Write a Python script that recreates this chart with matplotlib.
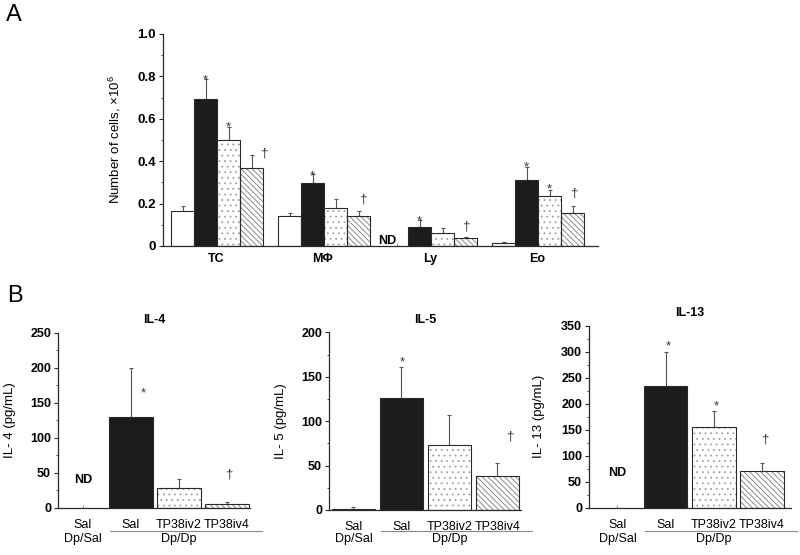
import numpy as np
import matplotlib
matplotlib.use("Agg")
import matplotlib.pyplot as plt
from matplotlib.ticker import MultipleLocator
import matplotlib.transforms as mtransforms

plt.rcParams["font.family"] = ["Liberation Sans", "DejaVu Sans"]
plt.rcParams["mathtext.default"] = "regular"
plt.rcParams["hatch.linewidth"] = 0.6

W, H = 800, 555

# ---- Panel A: BAL cell counts ----
cell_types = ["TC", "MΦ", "Ly", "Eo"]
# order per group: Dp/Sal-Sal, Dp/Dp-Sal, Dp/Dp-TP38iv2, Dp/Dp-TP38iv4
cells_mean = [
    [0.167, 0.695, 0.498, 0.370],
    [0.140, 0.299, 0.181, 0.142],
    [np.nan, 0.088, 0.061, 0.036],
    [0.013, 0.310, 0.234, 0.154],
]
cells_sem = [
    [0.022, 0.091, 0.063, 0.060],
    [0.017, 0.041, 0.039, 0.025],
    [np.nan, 0.035, 0.022, 0.006],
    [0.004, 0.065, 0.030, 0.035],
]
# (group, bar, symbol, y, x shift in bar widths)
cells_marks = [
    (0, 1, "*", 0.796, 0.0), (0, 2, "*", 0.575, 0.0), (0, 3, "†", 0.434, 0.55),
    (1, 1, "*", 0.346, 0.0), (1, 3, "†", 0.217, 0.2),
    (2, 1, "*", 0.130, 0.0), (2, 3, "†", 0.091, 0.0),
    (3, 1, "*", 0.385, 0.0), (3, 2, "*", 0.285, 0.0), (3, 3, "†", 0.250, 0.05),
]

# ---- Panel B: cytokines ----
groups_b = ["Sal", "Sal", "TP38iv2", "TP38iv4"]
il4_mean = [np.nan, 130.0, 28.6, 4.8]
il4_sem = [np.nan, 69.0, 12.8, 3.2]
il5_mean = [1.0, 125.7, 72.8, 38.6]
il5_sem = [2.4, 35.0, 33.8, 14.7]
il13_mean = [np.nan, 235.0, 155.0, 70.0]
il13_sem = [np.nan, 64.0, 31.5, 16.0]
il4_marks = [(1.25, 168, "*"), (3.04, 48, "†")]
il5_marks = [(1.02, 170, "*"), (3.25, 83, "†")]
il13_marks = [(1.06, 317, "*"), (2.05, 202, "*"), (3.06, 132, "†")]

EDGE = "#2a2a2a"
AXC = "#2a2a2a"


def px_axes(fig, x0, x1, ytop, ybot):
    return fig.add_axes([x0 / W, 1 - ybot / H, (x1 - x0) / W, (ybot - ytop) / H])


def draw_bar(ax, x, h, w, style):
    if np.isnan(h):
        return
    if style == 0:
        ax.bar(x, h, w, color="white", edgecolor=EDGE, linewidth=0.8, zorder=2)
    elif style == 1:
        ax.bar(x, h, w, color="#1c1c1c", edgecolor=EDGE, linewidth=0.8, zorder=2)
    else:
        hatch = "..." if style == 2 else "\\\\\\\\\\\\"
        col = "#a0a0a0" if style == 2 else "#7a7a7a"
        ax.bar(x, h, w, color="white", edgecolor=col, linewidth=0,
               hatch=hatch, zorder=2)
        ax.bar(x, h, w, color="none", edgecolor=EDGE, linewidth=0.8, zorder=3)


def draw_err(ax, x, h, e):
    if np.isnan(h) or np.isnan(e):
        return
    ax.errorbar(x, h, yerr=[[0], [e]], fmt="none", ecolor="#555555",
                elinewidth=0.8, capsize=1.5, capthick=0.8, zorder=1)


def style_axes(ax):
    for s in ["top", "right"]:
        ax.spines[s].set_visible(False)
    for s in ["left", "bottom"]:
        ax.spines[s].set_color(AXC)
        ax.spines[s].set_linewidth(0.9)
    ax.tick_params(axis="y", which="major", direction="out", length=3,
                   width=0.8, color=AXC, pad=2)
    ax.tick_params(axis="y", which="minor", direction="out", length=1.5,
                   width=0.6, color=AXC)
    for lab in ax.get_yticklabels():
        lab.set_fontweight("bold")


fig = plt.figure(figsize=(W / 100, H / 100), dpi=100)

# ---------------- Panel A ----------------
axA = px_axes(fig, 163, 598, 34, 246)
bw = 0.215
offs = np.array([-1.5, -0.5, 0.5, 1.5]) * bw
centers = np.arange(len(cell_types))
bar_x = []
for g in range(len(cell_types)):
    for b in range(4):
        x = centers[g] + offs[b]
        bar_x.append(x)
        draw_err(axA, x, cells_mean[g][b], cells_sem[g][b])
        draw_bar(axA, x, cells_mean[g][b], bw, b)
for g, b, sym, y, dx in cells_marks:
    axA.annotate(sym, (centers[g] + offs[b] + dx * bw, y),
                 xytext=(0, -2.5 if sym == "*" else 0), textcoords="offset points",
                 ha="center", va="center", fontsize=9.5, color="#333333")
axA.text(centers[2] + offs[0] - 0.09, 0.025, "ND", ha="center", va="center",
         fontsize=9, fontweight="bold")

axA.set_xlim(-0.505, 3.56)
axA.set_ylim(0, 1.0)
axA.yaxis.set_minor_locator(MultipleLocator(0.1))
axA.set_yticks([0, 0.2, 0.4, 0.6, 0.8, 1.0])
axA.set_yticklabels(["0", "0.2", "0.4", "0.6", "0.8", "1.0"])
axA.set_xticks(centers - 0.01)
axA.set_xticklabels(cell_types, fontweight="bold", fontsize=9)
axA.set_xticks(bar_x, minor=True)
style_axes(axA)
axA.tick_params(axis="y", labelsize=9.5)
axA.tick_params(axis="x", which="major", length=0, pad=5)
axA.tick_params(axis="x", which="minor", direction="in", length=2.5,
                width=0.6, color="#777777")
axA.set_ylabel("Number of cells, ×10$^6$", fontsize=9.5)
axA.yaxis.set_label_coords(-0.092, 0.5)

# ---------------- Panel B ----------------
panels = [
    ("IL-4", "IL- 4 (pg/mL)", il4_mean, il4_sem, il4_marks, (58, 250, 332.7, 507.7),
     (-0.52, 3.48), 250, 50, (0, 39.5)),
    ("IL-5", "IL- 5 (pg/mL)", il5_mean, il5_sem, il5_marks, (329, 521, 332.3, 510),
     (-0.51, 3.49), 200, 50, None),
    ("IL-13", "IL- 13 (pg/mL)", il13_mean, il13_sem, il13_marks, (589, 791, 325.7, 507.7),
     (-0.59, 3.6), 350, 50, (0, 66)),
]
xb = np.arange(len(groups_b))
for title, ylab, means, sems, marks, box, xlim, ymax, step, nd in panels:
    ax = px_axes(fig, *box)
    for i in range(len(groups_b)):
        draw_err(ax, xb[i], means[i], sems[i])
        draw_bar(ax, xb[i], means[i], 0.9, i)
    for x, y, sym in marks:
        ax.annotate(sym, (x, y), xytext=(0, -2.5 if sym == "*" else 0),
                    textcoords="offset points", ha="center", va="center",
                    fontsize=9.5, color="#333333")
    if nd is not None:
        ax.text(nd[0], nd[1], "ND", ha="center", va="center", fontsize=9,
                fontweight="bold")
    ax.set_xlim(*xlim)
    ax.set_ylim(0, ymax)
    ax.set_yticks(np.arange(0, ymax + 1, step))
    ax.yaxis.set_minor_locator(MultipleLocator(step / 2))
    ax.set_xticks(xb)
    ax.set_xticklabels(groups_b, fontsize=9)
    style_axes(ax)
    ax.tick_params(axis="y", labelsize=9)
    ax.tick_params(axis="x", which="major", direction="in", length=2.5,
                   width=0.6, color="#777777", pad=8)
    ax.set_title(title, fontsize=9, fontweight="bold", pad=7)
    ax.set_ylabel(ylab, fontsize=9.5)
    ax.yaxis.set_label_coords(-0.22, 0.5)
    trans = mtransforms.blended_transform_factory(ax.transData, ax.transAxes)
    hpx = box[3] - box[2]
    yline = -(531 - box[3]) / hpx
    ytxt = -(539 - box[3]) / hpx
    ax.plot([0.57, 3.72], [yline, yline], transform=trans, color="#888888",
            lw=0.8, clip_on=False)
    ax.text(0, ytxt, "Dp/Sal", transform=trans, ha="center", va="center",
            fontsize=9)
    ax.text(2, ytxt, "Dp/Dp", transform=trans, ha="center", va="center",
            fontsize=9)

fig.text(14 / W, 1 - 15 / H, "A", fontsize=17, ha="center", va="center")
fig.text(15 / W, 1 - 296 / H, "B", fontsize=17, ha="center", va="center")

fig.savefig("out.png", dpi=100, facecolor="white")
